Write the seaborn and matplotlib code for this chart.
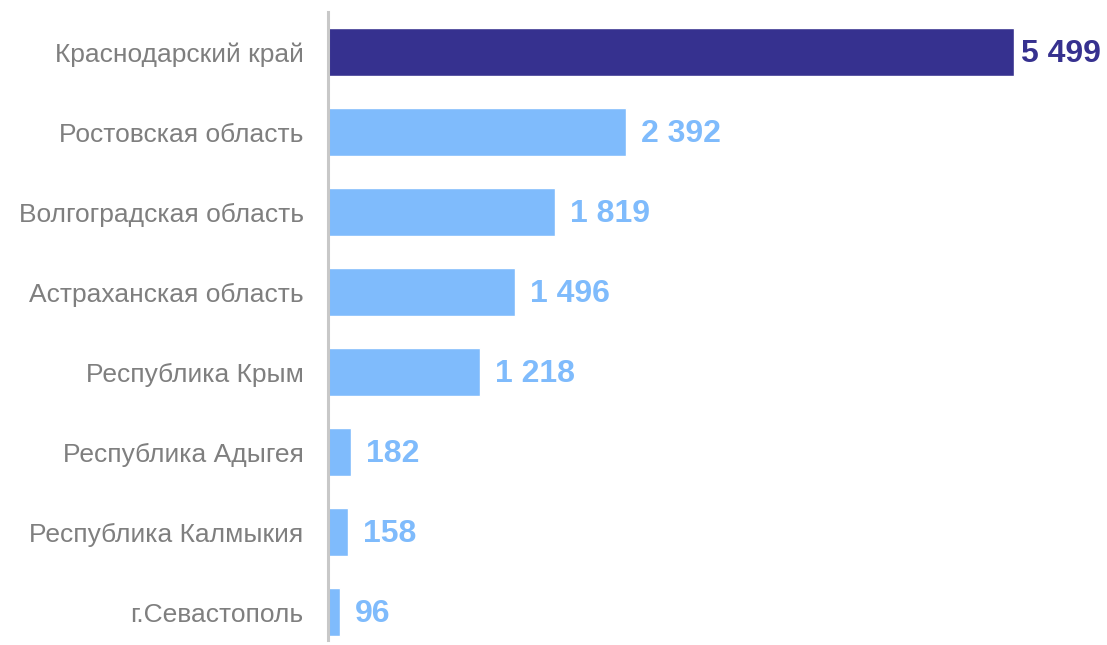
import matplotlib
matplotlib.use("Agg")
import matplotlib.pyplot as plt
import seaborn as sns
import pandas as pd

regions = ["Краснодарский край", "Ростовская область", "Волгоградская область",
           "Астраханская область", "Республика Крым", "Республика Адыгея",
           "Республика Калмыкия", "г.Севастополь"]
values = [5499, 2392, 1819, 1496, 1218, 182, 158, 96]
value_labels = ["5 499", "2 392", "1 819", "1 496", "1 218", "182", "158", "96"]

dark = "#36318F"
light = "#7FBBFC"
colors = [dark] + [light] * (len(values) - 1)

sns.set_theme(style="white")
plt.rcParams['font.family'] = ['Liberation Sans', 'DejaVu Sans']

df = pd.DataFrame({"region": regions, "value": values})

fig = plt.figure(figsize=(11.07, 6.45), dpi=100)
ax = fig.add_axes([328/1107, 5/645, (1107-328)/1107, 628/645])
sns.barplot(data=df, x="value", y="region", hue="region", palette=colors,
            legend=False, width=0.6, ax=ax, saturation=1, orient="h")

ax.set_xlim(0, (1107-329)/0.1246)
ax.set_ylim(7.35, -0.5)
ax.set_xlabel("")
ax.set_ylabel("")
ax.set_xticks([])
for s in ["top", "right", "bottom"]:
    ax.spines[s].set_visible(False)
ax.spines["left"].set_color("#C8C8C8")
ax.spines["left"].set_linewidth(2.2)
ax.tick_params(axis="y", length=0, pad=17.5, labelsize=19, labelcolor="#7F7F7F")

for i, (v, lab) in enumerate(zip(values, value_labels)):
    off = 55 if i == 0 else 120
    ax.text(v + off, i + 0.02, lab, va="center", ha="left", fontsize=23,
            fontweight="bold", color=colors[i])

fig.savefig("out.png", dpi=100)
